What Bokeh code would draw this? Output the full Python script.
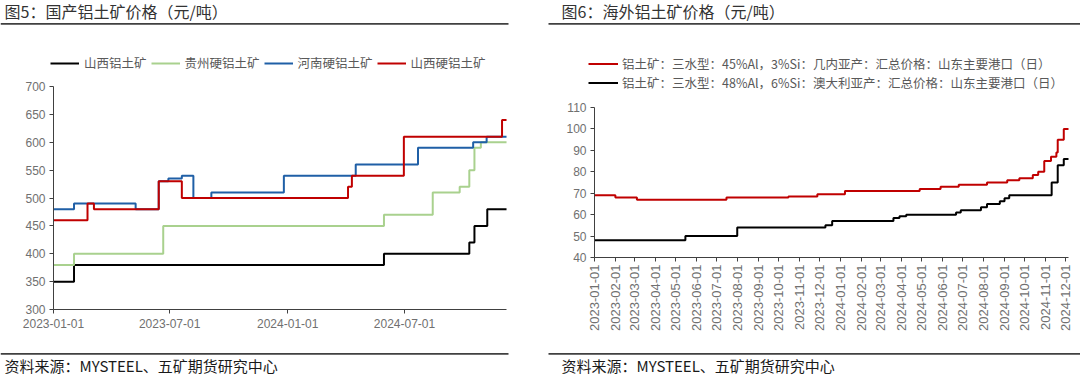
import pandas as pd
from math import pi
from bokeh.plotting import figure
from bokeh.models import (Range1d, SingleIntervalTicker, DatetimeTickFormatter, MonthsTicker,
                          Legend, LegendItem, Label, BoxAnnotation)
from bokeh.layouts import row
from bokeh.embed import file_html
from bokeh.resources import INLINE

# ---------------- data: left chart (国产铝土矿价格, 元/吨) ----------------
sx_dates = ["2023-01-01", "2023-02-02", "2024-05-30", "2024-10-10", "2024-10-18", "2024-11-07", "2024-12-07"]
sx_vals = [350, 380, 400, 420, 450, 480, 480]
gz_dates = ["2023-01-01", "2023-02-02", "2023-06-21", "2024-05-30", "2024-08-14", "2024-09-25",
            "2024-10-10", "2024-10-18", "2024-10-28", "2024-12-07"]
gz_vals = [380, 400, 450, 470, 510, 520, 550, 590, 600, 600]
hn_dates = ["2023-01-01", "2023-02-02", "2023-05-09", "2023-06-14", "2023-06-29", "2023-07-20",
            "2023-08-07", "2023-09-04", "2023-12-26", "2024-04-16", "2024-07-22", "2024-10-16",
            "2024-11-06", "2024-12-07"]
hn_vals = [480, 490, 480, 530, 535, 540, 500, 510, 540, 560, 590, 600, 610, 610]
sxh_dates = ["2023-01-01", "2023-02-23", "2023-03-05", "2023-06-14", "2023-07-20", "2024-04-04",
             "2024-04-10", "2024-06-30", "2024-11-30", "2024-12-07"]
sxh_vals = [460, 490, 480, 530, 500, 520, 540, 610, 640, 640]
left_names = ["山西铝土矿", "贵州硬铝土矿", "河南硬铝土矿", "山西硬铝土矿"]
left_yticks = [300, 700, 50]

# ---------------- data: right chart (海外铝土矿价格) ----------------
gn_dates = ["2023-01-01", "2023-02-01", "2023-03-05", "2023-07-16", "2023-10-16", "2023-11-28",
            "2024-01-08", "2024-04-28", "2024-05-29", "2024-06-25", "2024-08-06", "2024-09-05",
            "2024-09-23", "2024-10-13", "2024-10-21", "2024-10-30", "2024-11-09", "2024-11-17",
            "2024-11-19", "2024-11-28", "2024-12-05"]
gn_vals = [69, 68, 67, 68, 68.5, 69.5, 71, 72, 73, 74, 75, 76, 77, 78.5, 80, 85, 87, 89, 95, 100, 100]
au_dates = ["2023-01-01", "2023-05-16", "2023-08-01", "2023-12-10", "2023-12-20", "2024-03-20",
            "2024-03-29", "2024-04-08", "2024-06-21", "2024-06-28", "2024-07-28", "2024-08-06",
            "2024-08-25", "2024-09-01", "2024-09-08", "2024-11-10", "2024-11-19", "2024-11-28",
            "2024-12-05"]
au_vals = [48, 50, 54, 55, 57, 58.4, 59.3, 60, 61, 62, 63.5, 65, 66.3, 67.6, 69, 75, 83, 86, 86]
right_names = ["铝土矿：三水型：45%Al，3%Si：几内亚产：汇总价格：山东主要港口（日）",
               "铝土矿：三水型：48%Al，6%Si：澳大利亚产：汇总价格：山东主要港口（日）"]
right_yticks = [40, 110, 10]

titles = ["图5：国产铝土矿价格（元/吨）", "图6：海外铝土矿价格（元/吨）"]
source_text = "资料来源：MYSTEEL、五矿期货研究中心"

CJK = "Noto Sans CJK SC"
NUM = "Liberation Sans"
W, H = 540, 380


def ms(s):
    return pd.Timestamp(s).value / 1e6


def dt(lst):
    return pd.to_datetime(lst)


class Mapper:
    """pixel layout -> data ranges (frame covers the whole canvas)"""
    def __init__(self, x_px0, t0, x_px1, t1, y_px_top, v_top, y_px_bot, v_bot):
        self.kx = (x_px1 - x_px0) / (ms(t1) - ms(t0))
        self.xs = ms(t0) - x_px0 / self.kx
        self.ky = (y_px_bot - y_px_top) / (v_top - v_bot)
        self.ytop = v_top + y_px_top / self.ky

    def x(self, px):
        return self.xs + px / self.kx

    def y(self, py):
        return self.ytop - py / self.ky

    def ranges(self):
        return Range1d(self.x(0), self.x(W)), Range1d(self.y(H), self.y(0))


def make_fig(m, t_start, t_end, ylo, yhi, step):
    xr, yr = m.ranges()
    p = figure(width=W, height=H, x_axis_type="datetime", output_backend="svg", toolbar_location=None,
               x_range=xr, y_range=yr, min_border=0, title=None)
    p.xgrid.visible = False
    p.ygrid.visible = False
    p.outline_line_color = None
    p.background_fill_color = "white"
    p.border_fill_color = "white"
    xa, ya = p.xaxis[0], p.yaxis[0]
    xa.fixed_location = ylo
    xa.bounds = (ms(t_start), ms(t_end))
    ya.fixed_location = ms(t_start)
    ya.bounds = (ylo, yhi)
    ya.ticker = SingleIntervalTicker(interval=step)
    xa.formatter = DatetimeTickFormatter(days="%Y-%m-%d", months="%Y-%m-%d", years="%Y-%m-%d")
    for ax in (xa, ya):
        ax.axis_line_color = "#404040"
        ax.axis_line_width = 1
        ax.major_tick_line_color = "#404040"
        ax.major_tick_in = 0
        ax.major_tick_out = 4
        ax.minor_tick_line_color = None
        ax.major_label_text_font = NUM
        ax.major_label_text_font_size = "12px"
        ax.major_label_text_color = "#707070"
        ax.major_label_standoff = 4
    return p


def decorate(p, m, title, text_x, rule_x0, rule_x1):
    p.add_layout(Label(x=m.x(text_x), y=m.y(10), text=title, text_font=CJK, text_font_size="16px",
                       text_color="#333333", text_baseline="middle", text_align="left"))
    for cy in (23.3, 353.3):
        p.add_layout(BoxAnnotation(left=m.x(rule_x0), right=m.x(rule_x1), top=m.y(cy - 0.9),
                                   bottom=m.y(cy + 0.9), fill_color="#404040", fill_alpha=1,
                                   line_color=None))
    p.add_layout(Label(x=m.x(text_x), y=m.y(365), text=source_text, text_font=CJK,
                       text_font_size="15px", text_color="#1a1a1a", text_baseline="middle",
                       text_align="left"))


# ---------------- left figure ----------------
m1 = Mapper(53, "2023-01-01", 404, "2024-07-01", 86, left_yticks[1], 309, left_yticks[0])
p1 = make_fig(m1, sx_dates[0], sx_dates[-1], left_yticks[0], left_yticks[1], left_yticks[2])
p1.xaxis.ticker = MonthsTicker(months=[0, 6])
p1.xaxis.major_label_standoff = 5

left_series = [(sx_dates, sx_vals, "#000000"), (gz_dates, gz_vals, "#a9d18e"),
               (hn_dates, hn_vals, "#1f5fa6"), (sxh_dates, sxh_vals, "#c00000")]
items = []
for (d, v, c), name in zip(left_series, left_names):
    r = p1.step(dt(d), v, mode="after", line_width=2, line_color=c)
    items.append(LegendItem(label=name, renderers=[r]))
p1.add_layout(Legend(items=items, orientation="horizontal", location=(50, 308),
                     glyph_width=29, glyph_height=16, label_height=16, label_standoff=5, spacing=4,
                     padding=0, margin=0, border_line_color=None, background_fill_alpha=0,
                     label_text_font=CJK, label_text_font_size="12.5px", label_text_color="#595959"))
decorate(p1, m1, titles[0], 4, 0, 508)

# ---------------- right figure ----------------
m2 = Mapper(54, "2023-01-01", 525.3, "2024-12-01", 107, right_yticks[1], 257, right_yticks[0])
p2 = make_fig(m2, gn_dates[0], gn_dates[-1], right_yticks[0], right_yticks[1], right_yticks[2])
p2.xaxis.ticker = MonthsTicker(months=list(range(12)))
p2.xaxis.major_label_orientation = pi / 2
p2.xaxis.major_label_standoff = 3
p2.xaxis.major_label_text_font_size = "13px"

items2 = []
for (d, v, c), name in zip([(gn_dates, gn_vals, "#c00000"), (au_dates, au_vals, "#000000")], right_names):
    r = p2.step(dt(d), v, mode="after", line_width=2, line_color=c)
    items2.append(LegendItem(label=name, renderers=[r]))
p2.add_layout(Legend(items=items2, orientation="vertical", location=(48, 288),
                     glyph_width=30, glyph_height=19, label_height=19, label_standoff=4, spacing=0,
                     padding=0, margin=0, border_line_color=None, background_fill_alpha=0,
                     label_text_font=CJK, label_text_font_size="12.5px", label_text_color="#595959"))
decorate(p2, m2, titles[1], 21, 8, 540)

layout = row(p1, p2)
open("out.html", "w").write(file_html(layout, INLINE))
